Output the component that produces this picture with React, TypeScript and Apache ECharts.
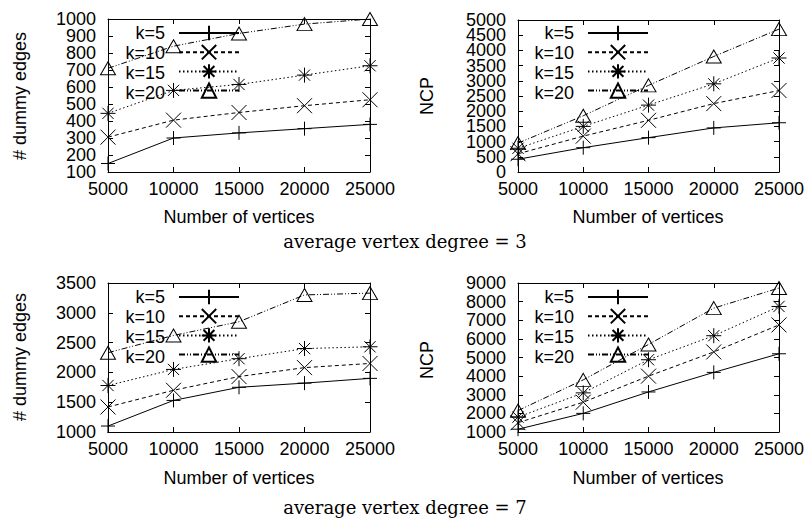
import React, { useEffect, useRef } from "react";
import * as echarts from "echarts";

const xValues = [5000, 10000, 15000, 20000, 25000];
const kLabels = ["k=5", "k=10", "k=15", "k=20"];

// average vertex degree = 3, # dummy edges
const deg3DummyK5 = [150, 300, 330, 355, 380];
const deg3DummyK10 = [305, 405, 450, 490, 525];
const deg3DummyK15 = [445, 580, 615, 670, 725];
const deg3DummyK20 = [710, 840, 915, 970, 1000];

// average vertex degree = 3, NCP
const deg3NcpK5 = [420, 800, 1130, 1450, 1620];
const deg3NcpK10 = [600, 1180, 1700, 2250, 2680];
const deg3NcpK15 = [780, 1500, 2200, 2900, 3750];
const deg3NcpK20 = [950, 1850, 2850, 3800, 4700];

// average vertex degree = 7, # dummy edges
const deg7DummyK5 = [1100, 1530, 1750, 1820, 1900];
const deg7DummyK10 = [1420, 1700, 1930, 2080, 2150];
const deg7DummyK15 = [1780, 2050, 2230, 2400, 2430];
const deg7DummyK20 = [2330, 2620, 2850, 3300, 3330];

// average vertex degree = 7, NCP
const deg7NcpK5 = [1150, 2000, 3150, 4200, 5200];
const deg7NcpK10 = [1500, 2600, 4000, 5300, 6750];
const deg7NcpK15 = [1800, 3100, 4880, 6170, 7740];
const deg7NcpK20 = [2150, 3800, 5700, 7650, 8730];

const panelData = [
  [deg3DummyK5, deg3DummyK10, deg3DummyK15, deg3DummyK20],
  [deg3NcpK5, deg3NcpK10, deg3NcpK15, deg3NcpK20],
  [deg7DummyK5, deg7DummyK10, deg7DummyK15, deg7DummyK20],
  [deg7NcpK5, deg7NcpK10, deg7NcpK15, deg7NcpK20],
];

const yRanges = [
  { min: 100, max: 1000, interval: 100 },
  { min: 0, max: 5000, interval: 500 },
  { min: 1000, max: 3500, interval: 500 },
  { min: 1000, max: 9000, interval: 1000 },
];

const yTitles = ["# dummy edges", "NCP", "# dummy edges", "NCP"];
const xTitle = "Number of vertices";
const captions = ["average vertex degree = 3", "average vertex degree = 7"];

const grids = [
  { left: 108, top: 19, width: 262, height: 153 },
  { left: 518, top: 20, width: 261, height: 152 },
  { left: 108, top: 283, width: 262, height: 149 },
  { left: 518, top: 283, width: 261, height: 149 },
];

const symbols = [
  "path://M0,6L12,6M6,0L6,12",
  "path://M0,0L12,12M12,0L0,12",
  "path://M0,6L12,6M6,0L6,12M1.5,1.5L10.5,10.5M10.5,1.5L1.5,10.5",
  "path://M6,0L12,10.4L0,10.4Z",
];
const symbolSizes: any[] = [14, 15, 15, [15, 13]];
const dashes: any[] = ["solid", [4, 3], [1.5, 2.5], [6, 2, 1, 2, 1, 2]];

const SANS = "'Liberation Sans', Arial, sans-serif";
const SERIF = "'DejaVu Serif', serif";

export default function App() {
  const ref = useRef<HTMLDivElement>(null);
  useEffect(() => {
    if (!ref.current) return;
    const chart = echarts.init(ref.current, undefined, { renderer: "svg" });

    const xAxis: any[] = [];
    const yAxis: any[] = [];
    const series: any[] = [];
    const legend: any[] = [];
    const graphic: any[] = [];
    const fmt = (v: number) => String(v);

    grids.forEach((g, p) => {
      const commonLine = { show: true, onZero: false, lineStyle: { color: "#000", width: 1 } };
      const tick = { show: true, inside: true, length: 5, lineStyle: { color: "#000", width: 1 } };
      xAxis.push({
        type: "value", gridIndex: p, position: "bottom", min: 5000, max: 25000, interval: 5000,
        axisLine: commonLine, axisTick: tick, splitLine: { show: false },
        axisLabel: { color: "#000", fontSize: 18, fontFamily: SANS, margin: 8, formatter: fmt, showMinLabel: true, showMaxLabel: true },
      });
      xAxis.push({
        type: "value", gridIndex: p, position: "top", min: 5000, max: 25000, interval: 5000,
        axisLine: commonLine, axisTick: tick, splitLine: { show: false },
        axisLabel: { show: false },
      });
      const yr = yRanges[p];
      const parity = (v: number) => Math.round((v - yr.min) / yr.interval) % 2;
      const yLabelBase = {
        color: "#000", fontSize: 18, fontFamily: SANS, margin: 12, lineHeight: 12,
        showMinLabel: true, showMaxLabel: true,
      };
      // main left axis: labels at even steps
      yAxis.push({
        type: "value", gridIndex: p, position: "left", min: yr.min, max: yr.max, interval: yr.interval,
        axisLine: commonLine, axisTick: tick, splitLine: { show: false },
        axisLabel: { ...yLabelBase, formatter: (v: number) => (parity(v) === 0 ? String(v) : "") },
      });
      // mirrored right axis (ticks only)
      yAxis.push({
        type: "value", gridIndex: p, position: "right", min: yr.min, max: yr.max, interval: yr.interval,
        axisLine: commonLine, axisTick: tick, splitLine: { show: false },
        axisLabel: { show: false },
      });
      // second left axis: labels at odd steps
      yAxis.push({
        type: "value", gridIndex: p, position: "left", offset: 0, min: yr.min, max: yr.max, interval: yr.interval,
        axisLine: { show: false }, axisTick: { show: false }, splitLine: { show: false },
        axisLabel: { ...yLabelBase, formatter: (v: number) => (parity(v) === 1 ? String(v) : "") },
      });

      panelData[p].forEach((arr, k) => {
        series.push({
          type: "line",
          name: kLabels[k],
          xAxisIndex: p * 2,
          yAxisIndex: p * 3,
          data: xValues.map((x, i) => [x, arr[i]]),
          symbol: symbols[k],
          symbolSize: symbolSizes[k],
          showSymbol: true,
          silent: true,
          emphasis: { disabled: true },
          itemStyle: { color: "rgba(0,0,0,0)", borderColor: "#000", borderWidth: 1 },
          lineStyle: { color: "#000", width: 1, type: dashes[k] },
        });
      });

      const isRight = p % 2 === 1;
      const isBottom = p >= 2;
      const iconLeft = isRight ? 587 : 178;
      const rowTop = isBottom ? 297 : 33;
      legend.push({
        orient: "vertical",
        left: iconLeft,
        top: rowTop - 9,
        padding: 0,
        itemGap: 2,
        itemWidth: 60,
        itemHeight: 18,
        selectedMode: false,
        data: kLabels,
        formatter: () => "",
        textStyle: { fontSize: 1 },
      });
      kLabels.forEach((lab, k) => {
        graphic.push({
          type: "text", x: iconLeft - 13, y: rowTop + k * 20,
          style: { text: lab, fill: "#000", fontSize: 18, fontFamily: SANS, align: "right", verticalAlign: "middle" },
        });
      });
    });

    const yTitlePos = [
      [20, 96], [427, 96], [20, 357], [427, 360],
    ];
    const xTitlePos = [
      [239, 217], [648, 217], [239, 478], [648, 478],
    ];
    yTitles.forEach((t, p) => {
      graphic.push({
        type: "text", x: yTitlePos[p][0], y: yTitlePos[p][1], rotation: Math.PI / 2,
        style: { text: t, fill: "#000", fontSize: 18, fontFamily: SANS, align: "center", verticalAlign: "middle" },
      });
      graphic.push({
        type: "text", x: xTitlePos[p][0], y: xTitlePos[p][1],
        style: { text: xTitle, fill: "#000", fontSize: 18, fontFamily: SANS, align: "center", verticalAlign: "middle" },
      });
    });
    graphic.push({
      type: "text", x: 405, y: 241,
      style: { text: captions[0], fill: "#000", fontSize: 18, fontFamily: SERIF, align: "center", verticalAlign: "middle" },
    });
    graphic.push({
      type: "text", x: 405, y: 507,
      style: { text: captions[1], fill: "#000", fontSize: 18, fontFamily: SERIF, align: "center", verticalAlign: "middle" },
    });

    chart.setOption({
      animation: false,
      backgroundColor: "#fff",
      grid: grids.map((g) => ({ ...g, containLabel: false })),
      xAxis,
      yAxis,
      series,
      legend,
      graphic,
    });
    return () => chart.dispose();
  }, []);

  return (
    <div
      ref={ref}
      style={{ position: "absolute", left: 0, top: 0, width: 810, height: 521, background: "#fff" }}
    />
  );
}
